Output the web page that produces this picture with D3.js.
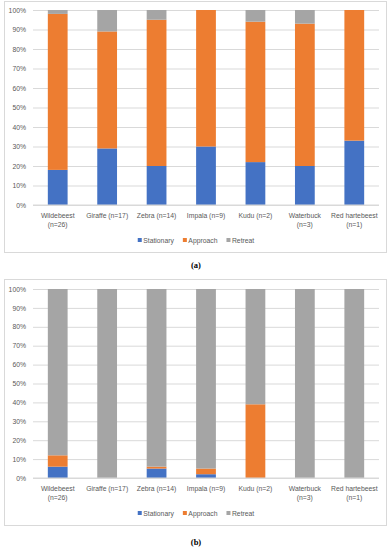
<!DOCTYPE html>
<html>
<head>
<meta charset="utf-8">
<script src="https://cdn.jsdelivr.net/npm/d3@7"></script>
<style>
  body { margin: 0; background: #fff; }
  svg { display: block; }
</style>
</head>
<body>
<div id="chart"></div>
<script>
// values (percent of each group)
var categories = ["Wildebeest (n=26)", "Giraffe (n=17)", "Zebra (n=14)", "Impala (n=9)",
                  "Kudu (n=2)", "Waterbuck (n=3)", "Red hartebeest (n=1)"];
var seriesNames = ["Stationary", "Approach", "Retreat"];
var colors = ["#4472C4", "#ED7D31", "#A5A5A5"];

var stationaryA = [18, 29, 20, 30, 22, 20, 33];
var approachA   = [80, 60, 75, 70, 72, 73, 67];
var retreatA    = [2, 11, 5, 0, 6, 7, 0];

var stationaryB = [6, 0, 5, 2, 0, 0, 0];
var approachB   = [6, 0, 1, 3, 39, 0, 0];
var retreatB    = [88, 100, 94, 95, 61, 100, 100];

var yTicks = [0, 10, 20, 30, 40, 50, 60, 70, 80, 90, 100];

var svg = d3.select("#chart").append("svg")
    .attr("width", 392)
    .attr("height", 550)

var font = "'Liberation Sans', Arial, sans-serif";
var fontSize = "6.8px";

function drawChart(stat, appr, retr, box, plotTop, plotBottom, caption, captionY) {
    var rows = categories.map(function(c, i) {
        return {cat: c, Stationary: stat[i], Approach: appr[i], Retreat: retr[i]};
    });
    var stacked = d3.stack().keys(seriesNames)(rows);

    // outer box
    svg.append("rect")
        .attr("x", box.x).attr("y", box.y)
        .attr("width", box.w).attr("height", box.h)
        .attr("fill", "#fff")
        .attr("stroke", "#D9D9D9")
        .attr("stroke-width", 1)

    var xScale = d3.scaleBand().domain(categories).range([33, 379]).paddingInner(0.6).paddingOuter(0.3);
    var yScale = d3.scaleLinear().domain([0, 100]).range([plotBottom, plotTop]);

    // gridlines
    var grid = svg.append("g")
        .attr("transform", "translate(33,0)")
        .call(d3.axisLeft(yScale).tickValues(yTicks).tickSize(-(379 - 33)).tickFormat(""));
    grid.select(".domain").remove();
    grid.selectAll("line").attr("stroke", "#D9D9D9").attr("stroke-width", 1);

    // y labels
    var yAxis = svg.append("g")
        .attr("transform", "translate(33,0)")
        .call(d3.axisLeft(yScale).tickValues(yTicks).tickSize(0).tickPadding(7)
              .tickFormat(function(d) { return d + "%"; }));
    yAxis.select(".domain").remove();
    yAxis.selectAll("text")
        .attr("font-family", font)
        .attr("font-size", fontSize)
        .attr("fill", "#595959");

    // bars
    svg.append("g").selectAll("g")
        .data(stacked)
        .enter().append("g")
        .attr("fill", function(d, i) { return colors[i]; })
        .selectAll("rect")
        .data(function(d) { return d; })
        .enter().append("rect")
        .attr("x", function(d) { return xScale(d.data.cat); })
        .attr("y", function(d) { return yScale(d[1]); })
        .attr("width", xScale.bandwidth())
        .attr("height", function(d) { return yScale(d[0]) - yScale(d[1]); });

    // baseline
    svg.append("line")
        .attr("x1", 33).attr("x2", 379)
        .attr("y1", yScale(0)).attr("y2", yScale(0))
        .attr("stroke", "#D9D9D9")

    // x labels, wrapped to the band step
    var xAxis = svg.append("g")
        .attr("transform", "translate(0," + plotBottom + ")")
        .call(d3.axisBottom(xScale).tickSize(0).tickPadding(8));
    xAxis.select(".domain").remove();
    xAxis.selectAll("text")
        .attr("font-family", font)
        .attr("font-size", fontSize)
        .attr("fill", "#595959")
        .call(wrap, 48);

    // legend
    var legend = svg.append("g");
    var lx = 0;
    seriesNames.forEach(function(name, i) {
        var item = legend.append("g").attr("transform", "translate(" + lx + ",0)");
        item.append("rect")
            .attr("x", 0).attr("y", -4.5)
            .attr("width", 4).attr("height", 4)
            .attr("fill", colors[i]);
        var t = item.append("text")
            .attr("x", 5.5).attr("y", 0)
            .attr("font-family", font)
            .attr("font-size", fontSize)
            .attr("fill", "#595959")
            .text(name);
        lx += 5.5 + t.node().getComputedTextLength() + 9;
    });
    var legendW = lx - 9;
    legend.attr("transform", "translate(" + (196 - legendW / 2) + "," + (box.y + box.h - 10) + ")");

    // caption
    svg.append("text")
        .attr("x", 196)
        .attr("y", captionY)
        .attr("text-anchor", "middle")
        .attr("font-family", "'Liberation Serif', 'Times New Roman', serif")
        .attr("font-weight", "bold")
        .attr("font-size", "8.5px")
        .attr("fill", "#000")
        .text(caption);
}

function wrap(texts, width) {
    texts.each(function() {
        var text = d3.select(this);
        var words = text.text().split(/\s+/);
        var y = text.attr("y");
        var dy = parseFloat(text.attr("dy"));
        var lines = [];
        var line = [];
        text.text(null);
        var tspan = text.append("tspan");
        words.forEach(function(w) {
            line.push(w);
            tspan.text(line.join(" "));
            if (tspan.node().getComputedTextLength() > width && line.length > 1) {
                line.pop();
                lines.push(line.join(" "));
                line = [w];
            }
        });
        lines.push(line.join(" "));
        text.text(null);
        lines.forEach(function(l, i) {
            text.append("tspan")
                .attr("x", 0)
                .attr("y", y)
                .attr("dy", (dy + i * 1.35) + "em")
                .text(l);
        });
    });
}

drawChart(stationaryA, approachA, retreatA, {x: 4.5, y: 1.5, w: 382, h: 251}, 10, 205, "(a)", 268);
drawChart(stationaryB, approachB, retreatB, {x: 4.5, y: 279.5, w: 382, h: 246}, 289, 478, "(b)", 545);
</script>
</body>
</html>
